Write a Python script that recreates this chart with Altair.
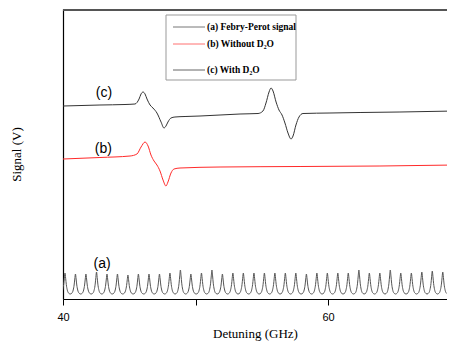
import altair as alt
import pandas as pd

# ---- data ----
# (c) With D2O  (detuning GHz, signal V)
c_x = [40.00, 42.79, 44.68, 45.43, 45.74, 45.89, 46.04, 46.19, 46.34, 46.57, 46.79,
       47.09, 47.40, 47.62, 47.77, 47.92, 48.15, 48.45, 49.21, 50.34, 51.85, 53.36,
       54.72, 55.09, 55.32, 55.55, 55.70, 55.85, 56.08, 56.30, 56.53, 56.75, 56.98,
       57.21, 57.36, 57.58, 57.81, 58.11, 60.15, 62.42, 65.43, 69.60]
c_y = [1.95, 1.96, 1.965, 1.97, 2.02, 2.07, 2.09, 2.07, 2.02, 1.96, 1.93,
       1.88, 1.79, 1.73, 1.75, 1.79, 1.83, 1.84, 1.845, 1.85, 1.86, 1.87,
       1.875, 1.90, 1.98, 2.09, 2.13, 2.10, 1.99, 1.91, 1.86, 1.78, 1.68,
       1.62, 1.65, 1.76, 1.84, 1.875, 1.88, 1.885, 1.89, 1.90]

# (b) Without D2O
b_x = [40.00, 42.79, 45.06, 45.58, 45.89, 46.19, 46.42, 46.64, 46.87, 47.09, 47.32,
       47.55, 47.77, 47.92, 48.15, 48.38, 48.83, 51.85, 57.89, 63.92, 69.60]
b_y = [1.42, 1.435, 1.45, 1.47, 1.54, 1.59, 1.55, 1.46, 1.40, 1.36, 1.30,
       1.21, 1.15, 1.19, 1.28, 1.32, 1.33, 1.34, 1.345, 1.35, 1.36]

# (a) Febry-Perot signal: peak centres and peak heights
fp_centres = [40.15, 40.94, 41.73, 42.53, 43.32, 44.11, 44.90, 45.69, 46.49, 47.28,
              48.07, 48.86, 49.65, 50.45, 51.24, 52.03, 52.82, 53.61, 54.41, 55.20,
              55.99, 56.78, 57.57, 58.37, 59.16, 59.95, 60.74, 61.53, 62.33, 63.12,
              63.91, 64.70, 65.49, 66.29, 67.08, 67.87, 68.66, 69.45]
fp_heights = [0.28, 0.27, 0.27, 0.29, 0.27, 0.27, 0.26, 0.27, 0.27, 0.27,
              0.28, 0.31, 0.27, 0.28, 0.31, 0.27, 0.28, 0.28, 0.28, 0.28,
              0.28, 0.28, 0.28, 0.27, 0.28, 0.28, 0.28, 0.28, 0.31, 0.28,
              0.28, 0.31, 0.28, 0.28, 0.29, 0.30, 0.29, 0.30]
fp_base = 0.07
# peak profile: offset from centre (GHz), fraction of height
prof_off = [-0.396, -0.25, -0.17, -0.10, -0.05, 0.0, 0.05, 0.10, 0.17, 0.25]
prof_frac = [0.0, 0.06, 0.2, 0.45, 0.75, 1.0, 0.75, 0.45, 0.2, 0.06]

labels_txt = ["(a)", "(b)", "(c)"]
labels_x = [42.95, 43.05, 43.09]
labels_y = [0.37, 1.52, 2.08]

legend_txt = ["(a) Febry-Perot signal", "(b) Without D\u2082O", "(c) With D\u2082O"]
legend_col = ["#777777", "#ff7070", "#666666"]

X_DOMAIN = [40, 68.98]
Y_DOMAIN = [0.02, 2.92]

# ---- tables ----
rows = []
for x, y in zip(c_x, c_y):
    rows.append({"x": x, "y": y, "s": "c"})
for x, y in zip(b_x, b_y):
    rows.append({"x": x, "y": y, "s": "b"})
fp_rows = []
for cx, h in zip(fp_centres, fp_heights):
    for o, f in zip(prof_off, prof_frac):
        fp_rows.append({"x": round(cx + o, 3), "y": fp_base + (h - fp_base) * f, "s": "a"})
fp_rows.append({"x": fp_centres[-1] + 0.396, "y": fp_base, "s": "a"})
curves = pd.DataFrame(rows)
fp = pd.DataFrame(fp_rows)
lab = pd.DataFrame({"t": labels_txt, "x": labels_x, "y": labels_y})

xs = alt.Scale(domain=X_DOMAIN, nice=False, zero=False)
ys = alt.Scale(domain=Y_DOMAIN, nice=False, zero=False)

x_axis = alt.Axis(values=[40, 50, 60], labelExpr="datum.value % 20 == 0 ? datum.label : ''",
                  grid=False, domainColor="#000", domainWidth=1.2, tickColor="#000", tickSize=6,
                  labelFont="Liberation Sans", labelFontSize=11, labelColor="#000", labelPadding=6,
                  labelFlush=False,
                  title="Detuning (GHz)", titleFont="Liberation Serif", titleFontSize=13,
                  titleFontWeight="normal", titleColor="#000", titlePadding=5)
y_axis = alt.Axis(labels=False, ticks=False, grid=False, domainColor="#000", domainWidth=1.2,
                  title="Signal (V)", titleFont="Liberation Serif", titleFontSize=13,
                  titleFontWeight="normal", titleColor="#000", titlePadding=40)

base_c = alt.Chart(curves).mark_line(strokeWidth=1, clip=True, interpolate="monotone").encode(
    x=alt.X("x:Q", scale=xs, axis=x_axis),
    y=alt.Y("y:Q", scale=ys, axis=y_axis),
    color=alt.Color("s:N", scale=alt.Scale(domain=["b", "c"], range=["#ff2a2a", "#333333"]), legend=None),
    detail="s:N",
)
fp_line = alt.Chart(fp).mark_line(strokeWidth=1, clip=True, interpolate="monotone", color="#555555").encode(
    x=alt.X("x:Q", scale=xs), y=alt.Y("y:Q", scale=ys)
)
labels = alt.Chart(lab).mark_text(font="Liberation Sans", fontSize=14, color="#000", baseline="middle").encode(
    x=alt.X("x:Q", scale=xs), y=alt.Y("y:Q", scale=ys), text="t:N"
)

one = pd.DataFrame({"k": [0]})
top_border = alt.Chart(one).mark_rule(color="#555555", strokeWidth=2).encode(
    x=alt.value(0), x2=alt.value(384), y=alt.value(1)
)
legend_box = alt.Chart(one).mark_rect(fill="white", stroke="#999999", strokeWidth=1).encode(
    x=alt.value(103), x2=alt.value(233), y=alt.value(6), y2=alt.value(71)
)
leg_layers = []
for txt, col, yy in zip(legend_txt, legend_col, [18, 35, 61]):
    leg_layers.append(alt.Chart(one).mark_rule(color=col, strokeWidth=1).encode(
        x=alt.value(110), x2=alt.value(142), y=alt.value(yy)))
    leg_layers.append(alt.Chart(one).mark_text(text=txt, font="Liberation Serif", fontSize=9.5,
                                               fontWeight="bold", color="#000", align="left",
                                               baseline="middle").encode(
        x=alt.value(144), y=alt.value(yy)))

chart = alt.layer(fp_line, base_c, labels, top_border, legend_box, *leg_layers).properties(
    width=384, height=290,
    padding={"left": 55, "top": 1, "right": 0, "bottom": 42},
    autosize="none",
).configure_view(stroke=None).configure(background="white")

chart.save("out.html", embed_options={"renderer": "svg", "actions": False})
